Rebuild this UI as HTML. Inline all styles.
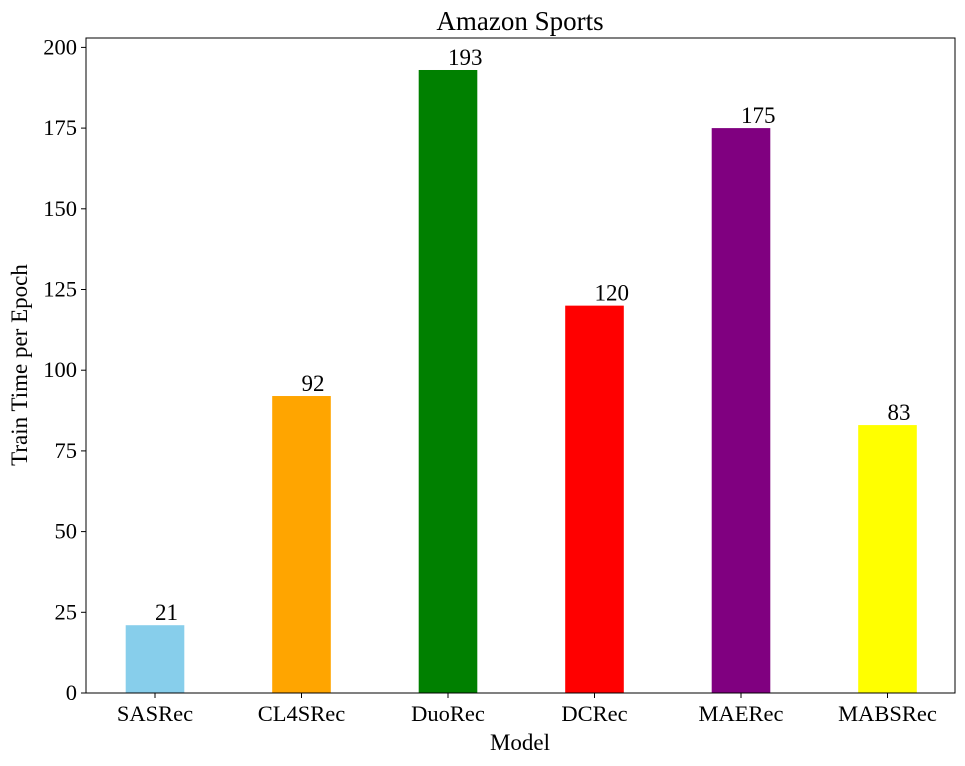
<!DOCTYPE html>
<html><head><meta charset="utf-8"><style>
body{margin:0;background:#fff}
svg{font-family:"Liberation Serif","Times New Roman",serif;display:block}
</style></head><body>
<svg id="chart" width="965" height="766">
<text x="520" y="30" font-size="27" text-anchor="middle">Amazon Sports</text>
<g id="yaxis"></g><g id="bars"></g><g id="xaxis"></g>
<rect x="86" y="38" width="869" height="655" fill="none" stroke="#000" stroke-width="1" shape-rendering="crispEdges"/>
<text x="520" y="750" font-size="23" text-anchor="middle">Model</text>
<text transform="translate(27,365) rotate(-90)" font-size="23" text-anchor="middle">Train Time per Epoch</text>
</svg>
<script>
const categories=["SASRec","CL4SRec","DuoRec","DCRec","MAERec","MABSRec"];
const values=[21,92,193,120,175,83];
const colors=["#87ceeb","#ffa500","#008000","#ff0000","#800080","#ffff00"];
const yTicks=[0,25,50,75,100,125,150,175,200];
const NS="http://www.w3.org/2000/svg";
function y(v){return 693-v*(645.6/200);}
function x(i){return 155+146.5*i;}
const bw=58.6;
function mk(tag,attrs,parent,text){const e=document.createElementNS(NS,tag);for(const k in attrs)e.setAttribute(k,attrs[k]);if(text!==undefined)e.textContent=text;parent.appendChild(e);return e;}
const ya=document.getElementById('yaxis'),ba=document.getElementById('bars'),xa=document.getElementById('xaxis');
yTicks.forEach(t=>{
 const l=mk('line',{x1:81,x2:86,y1:y(t),y2:y(t),stroke:'#000'},ya);
 
 
 const tx=mk('text',{x:77,y:y(t)+7,'font-size':22.5,'text-anchor':'end'},ya,t);
 
 
});
categories.forEach((c,i)=>{
 const r=mk('rect',{x:x(i)-bw/2,y:y(values[i]),width:bw,height:693-y(values[i]),fill:colors[i]},ba);
 
 
 const v=mk('text',{x:x(i),y:y(values[i])-5,'font-size':23},ba,values[i]);
 
 
 const tk=mk('line',{x1:x(i),x2:x(i),y1:693,y2:698,stroke:'#000'},xa);
 
 
 const lb=mk('text',{x:x(i),y:721,'font-size':22.5,'text-anchor':'middle'},xa,c);
 
 
});
</script>
</body></html>
